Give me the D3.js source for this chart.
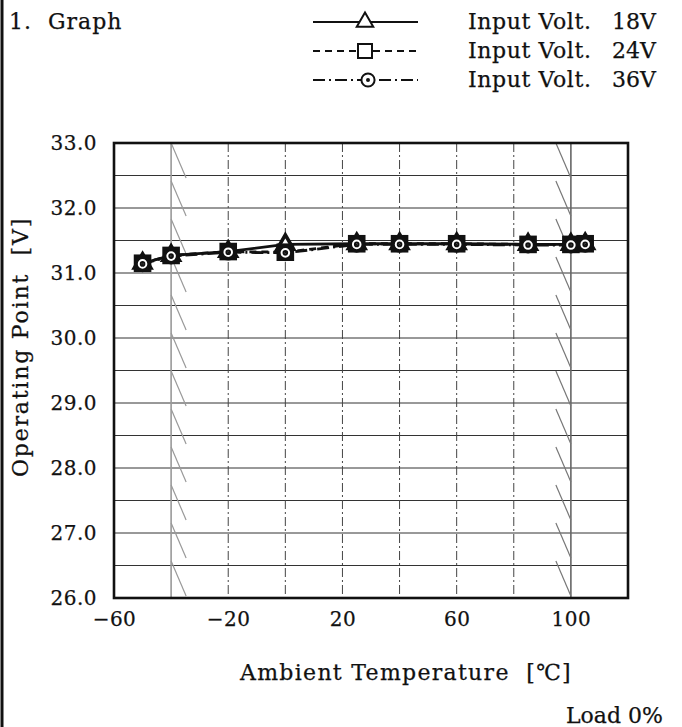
<!DOCTYPE html>
<html>
<head>
<meta charset="utf-8">
<script src="https://cdn.jsdelivr.net/npm/d3@7"></script>
<style>
  body { margin: 0; background: #fff; }
  svg { display: block; }
  text { font-family: "DejaVu Serif", "Liberation Serif", serif; fill: #111; stroke: #111; stroke-width: 0.25; }
</style>
</head>
<body>
<script>
var width = 682;
var height = 727;

// ambient temperature [C]
var temps = [-50, -40, -20, 0, 25, 40, 60, 85, 100, 105];
// operating point [V]
var volt18 = [31.15, 31.27, 31.33, 31.44, 31.45, 31.45, 31.45, 31.44, 31.44, 31.45];
var volt24 = [31.15, 31.27, 31.33, 31.32, 31.45, 31.45, 31.45, 31.44, 31.44, 31.45];
var volt36 = [31.14, 31.26, 31.32, 31.31, 31.44, 31.44, 31.44, 31.43, 31.43, 31.44];

var seriesNames = ["18V", "24V", "36V"];
var xTickLabels = [-60, -20, 20, 60, 100];
var yTickLabels = [26, 27, 28, 29, 30, 31, 32, 33];
var xGridTicks = [-40, -20, 0, 20, 40, 60, 80, 100];
var yGridTicks = [26.5, 27, 27.5, 28, 28.5, 29, 29.5, 30, 30.5, 31, 31.5, 32, 32.5];
var rangeLimits = [-40, 100];

var plot = { left: 114, right: 628, top: 143, bottom: 598 };

var x = d3.scaleLinear().domain([-60, 120]).range([plot.left, plot.right]);
var y = d3.scaleLinear().domain([26, 33]).range([plot.bottom, plot.top]);

var svg = d3.select("body").append("svg")
    .attr("width", width).attr("height", height);

// page border on the left
svg.append("line").attr("x1", 2).attr("x2", 2).attr("y1", 0).attr("y2", height)
    .attr("stroke", "#111").attr("stroke-width", 3);

svg.append("text").attr("x", 9).attr("y", 29).attr("font-size", 22)
    .attr("letter-spacing", 1).style("white-space", "pre").text("1.  Graph");

// grid
svg.append("g").selectAll("line").data(yGridTicks).enter().append("line")
    .attr("x1", plot.left).attr("x2", plot.right)
    .attr("y1", function (d) { return y(d); }).attr("y2", function (d) { return y(d); })
    .attr("stroke", "#333").attr("stroke-width", 1);

svg.append("g").selectAll("line").data(xGridTicks.filter(function (d) {
    return rangeLimits.indexOf(d) < 0;
})).enter().append("line")
    .attr("x1", function (d) { return x(d); }).attr("x2", function (d) { return x(d); })
    .attr("y1", plot.top).attr("y2", plot.bottom)
    .attr("stroke", "#444").attr("stroke-width", 1).attr("stroke-dasharray", "9,3,2,3");

// operating range limits with hatch
var hatch = svg.append("g");
rangeLimits.forEach(function (t, k) {
    var lx = x(t);
    hatch.append("line").attr("x1", lx).attr("x2", lx)
        .attr("y1", plot.top).attr("y2", plot.bottom)
        .attr("stroke", k === 0 ? "#999" : "#666").attr("stroke-width", 1.6);
    var steps = d3.range(plot.top, plot.bottom - 10, 38);
    hatch.selectAll(".h" + k).data(steps).enter().append("line")
        .attr("x1", k === 0 ? lx : lx - 15)
        .attr("x2", k === 0 ? lx + 15 : lx)
        .attr("y1", function (d) { return d; })
        .attr("y2", function (d) { return Math.min(d + 35, plot.bottom); })
        .attr("stroke", k === 0 ? "#999" : "#777").attr("stroke-width", 1.2);
});

// frame
svg.append("rect").attr("x", plot.left).attr("y", plot.top)
    .attr("width", plot.right - plot.left).attr("height", plot.bottom - plot.top)
    .attr("fill", "none").attr("stroke", "#111").attr("stroke-width", 2.6);

// axes
var yAxis = svg.append("g").attr("transform", "translate(" + plot.left + ",0)")
    .call(d3.axisLeft(y).tickValues(yTickLabels).tickSize(0).tickPadding(17)
        .tickFormat(d3.format(".1f")));
var xAxis = svg.append("g").attr("transform", "translate(0," + plot.bottom + ")")
    .call(d3.axisBottom(x).tickValues(xTickLabels).tickSize(0).tickPadding(14)
        .tickFormat(function (d) { return d < 0 ? "\u2212" + (-d) : d; }));
[yAxis, xAxis].forEach(function (a) {
    a.select(".domain").remove();
    a.selectAll("text").attr("font-family", "DejaVu Serif").attr("font-size", 20)
        .attr("fill", "#111").attr("letter-spacing", 0.5);
});

svg.append("text").attr("x", 240).attr("y", 680).attr("font-size", 22)
    .attr("letter-spacing", 1.3)
    .style("white-space", "pre").text("Ambient Temperature  [\u2103]");
svg.append("text").attr("x", 566).attr("y", 723).attr("font-size", 22)
    .text("Load 0%");
svg.append("text").attr("transform", "translate(28,347) rotate(-90)")
    .attr("text-anchor", "middle").attr("font-size", 22).attr("letter-spacing", 1.8)
    .style("white-space", "pre").text("Operating Point  [V]");

// series
var styles = [
    { values: volt18, dash: null, marker: "triangle" },
    { values: volt24, dash: "7,5", marker: "square" },
    { values: volt36, dash: "12,4,2,4", marker: "circle" }
];

var line = d3.line()
    .x(function (d) { return x(d[0]); })
    .y(function (d) { return y(d[1]); });

function drawMarker(g, type, cx, cy, sw, size) {
    if (type === "triangle") {
        g.append("path").attr("d", d3.symbol(d3.symbolTriangle, size * size * 0.6)())
            .attr("transform", "translate(" + cx + "," + cy + ")");
    } else if (type === "square") {
        g.append("rect").attr("x", cx - size / 2).attr("y", cy - size / 2)
            .attr("width", size).attr("height", size);
    } else {
        g.append("circle").attr("cx", cx).attr("cy", cy).attr("r", size * 0.47);
        g.append("circle").attr("cx", cx).attr("cy", cy).attr("r", 1).attr("fill", "#111");
    }
    g.selectAll("*").attr("stroke", "#111").attr("stroke-width", sw);
}

styles.forEach(function (s) {
    var pts = temps.map(function (t, i) { return [t, s.values[i]]; });
    svg.append("path").datum(pts).attr("d", line)
        .attr("fill", "none").attr("stroke", "#111").attr("stroke-width", 2.8)
        .attr("stroke-dasharray", s.dash);
});
styles.forEach(function (s) {
    temps.forEach(function (t, i) {
        var g = svg.append("g").attr("fill", "#fff");
        drawMarker(g, s.marker, x(t), y(s.values[i]), 3.6, 14);
    });
});

// legend
var legendRows = [22, 51, 80];
styles.forEach(function (s, i) {
    var ly = legendRows[i];
    svg.append("line").attr("x1", 313).attr("x2", 418).attr("y1", ly).attr("y2", ly)
        .attr("stroke", "#111").attr("stroke-width", 2.2)
        .attr("stroke-dasharray", s.dash);
    var g = svg.append("g").attr("fill", "#fff");
    drawMarker(g, s.marker, i === 2 ? 368 : 365, ly, 2, 14);
    svg.append("text").attr("x", 468).attr("y", ly + 7).attr("font-size", 22)
        .attr("letter-spacing", 0.6).text("Input Volt.");
    svg.append("text").attr("x", 612).attr("y", ly + 7).attr("font-size", 22)
        .text(seriesNames[i]);
});
</script>
</body>
</html>
